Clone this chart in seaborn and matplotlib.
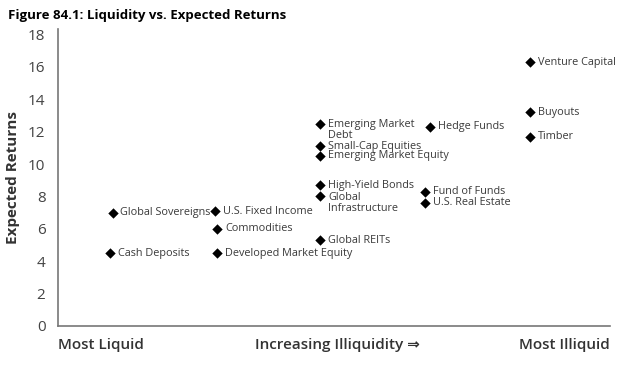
import matplotlib
matplotlib.use('Agg')
import matplotlib.pyplot as plt
import seaborn as sns
import pandas as pd

# asset classes, liquidity bucket (1 = most liquid) and expected return (%)
assets = ['Cash Deposits', 'Global Sovereigns', 'U.S. Fixed Income', 'Commodities',
          'Developed Market Equity', 'Emerging Market\nDebt', 'Small-Cap Equities',
          'Emerging Market Equity', 'High-Yield Bonds', 'Global\nInfrastructure',
          'Global REITs', 'Hedge Funds', 'Fund of Funds', 'U.S. Real Estate',
          'Venture Capital', 'Buyouts', 'Timber']
liquidity = [1.0, 1.02, 2.0, 2.02, 2.02, 3.0, 3.0, 3.0, 3.0, 3.0, 3.0,
             4.05, 4.0, 4.0, 5.0, 5.0, 5.0]
returns = [4.5, 7.0, 7.1, 6.0, 4.5, 12.5, 11.1, 10.5, 8.7, 8.0, 5.3,
           12.3, 8.3, 7.6, 16.3, 13.2, 11.7]

y_ticks = [0, 2, 4, 6, 8, 10, 12, 14, 16, 18]
x_labels = ['Most Liquid', 'Increasing Illiquidity \u21d2', 'Most Illiquid']

df = pd.DataFrame({'asset': assets, 'liquidity': liquidity, 'ret': returns})

sns.set_style('white')
plt.rcParams['font.family'] = ['Open Sans', 'DejaVu Sans']

fig = plt.figure(figsize=(6.27, 3.67), dpi=100)
ax = fig.add_axes([0.0925, 0.112, 0.88, 0.81])

sns.scatterplot(data=df, x='liquidity', y='ret', marker='D', color='black',
                s=28, edgecolor='black', linewidth=0, ax=ax, zorder=3)

for _, row in df.iterrows():
    if '\n' in row['asset']:
        # two-line labels: first line sits beside the marker
        ax.text(row['liquidity'] + 0.075, row['ret'] + 0.3, row['asset'],
                fontsize=7.8, color='#3a3a3a', va='top', ha='left', linespacing=1.0)
    else:
        ax.text(row['liquidity'] + 0.075, row['ret'], row['asset'],
                fontsize=7.8, color='#3a3a3a', va='center', ha='left')

ax.set_xlim(0.5, 5.71)
ax.set_ylim(0, 18.37)
ax.set_yticks(y_ticks)
ax.set_yticklabels([str(t) for t in y_ticks], fontsize=11, color='#444444')
ax.set_xticks([0.5, 3.16, 5.76])
ax.set_xticklabels(x_labels, fontsize=11, color='#333333', fontweight='semibold')
xt = ax.get_xticklabels()
xt[0].set_ha('left')
xt[2].set_ha('right')
ax.tick_params(axis='both', length=0)
ax.tick_params(axis='x', pad=9)
ax.tick_params(axis='y', pad=9)

ax.set_xlabel('')
ax.set_ylabel('Expected Returns', fontsize=11, fontweight='bold', color='#333333', labelpad=6)

sns.despine(ax=ax)
for side in ['left', 'bottom']:
    ax.spines[side].set_color('#777777')
    ax.spines[side].set_linewidth(1.2)

fig.text(0.013, 0.975, 'Figure 84.1: Liquidity vs. Expected Returns', fontsize=9.5,
         fontweight='bold', va='top', ha='left', color='black')

fig.savefig('out.png', dpi=100)
